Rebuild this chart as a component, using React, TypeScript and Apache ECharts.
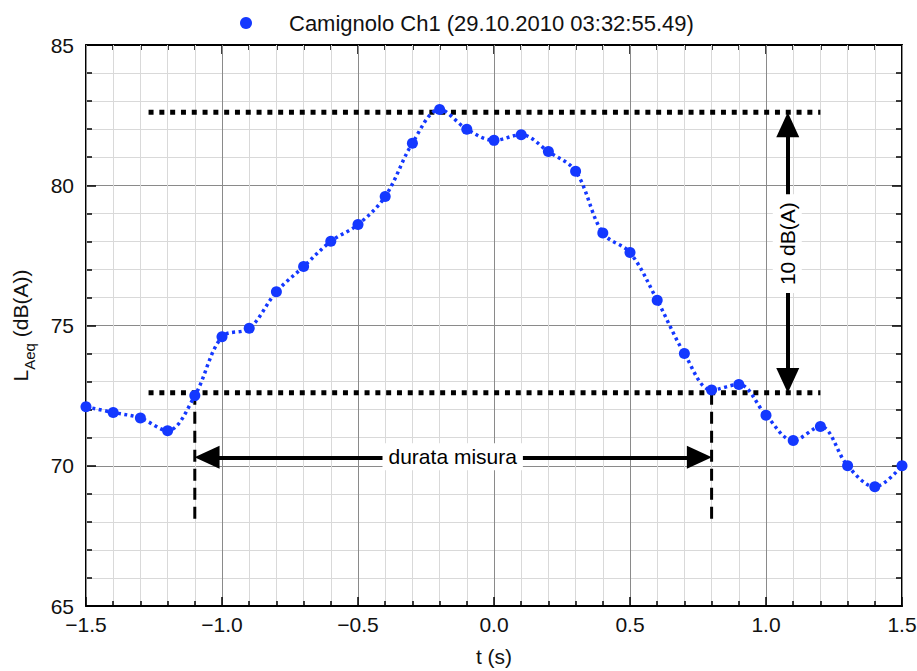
import React, { useEffect, useRef } from "react";
import * as echarts from "echarts";

// ---- data ----
const T_VALUES = [
  -1.5, -1.4, -1.3, -1.2, -1.1, -1.0, -0.9, -0.8, -0.7, -0.6, -0.5, -0.4, -0.3, -0.2, -0.1,
  0.0, 0.1, 0.2, 0.3, 0.4, 0.5, 0.6, 0.7, 0.8, 0.9, 1.0, 1.1, 1.2, 1.3, 1.4, 1.5,
];
const LAEQ_VALUES = [
  72.1, 71.9, 71.7, 71.25, 72.5, 74.6, 74.9, 76.2, 77.1, 78.0, 78.6, 79.6, 81.5, 82.7, 82.0,
  81.6, 81.8, 81.2, 80.5, 78.3, 77.6, 75.9, 74.0, 72.7, 72.9, 71.8, 70.9, 71.4, 70.0, 69.25, 70.0,
];
const SERIES_NAME = "Camignolo Ch1 (29.10.2010 03:32:55.49)";

// annotation values (data coordinates)
const LEVEL_MAX = 82.6;
const LEVEL_MAX_MINUS_10 = 72.6;
const LEVEL_LINE_X = [-1.27, 1.2];
const MEASURE_START = -1.1;
const MEASURE_END = 0.8;
const MEASURE_MARK_BOTTOM = 68.0;
const MEASURE_ARROW_Y = 70.3;
const MEASURE_LABEL = "durata misura";
const DELTA_ARROW_X = 1.08;
const DELTA_LABEL = "10 dB(A)";
const DELTA_LABEL_Y = 77.9;
// half the arrow-head length, in data units, so the tips land on the endpoints
const HEAD_HALF_X = 0.045;
const HEAD_HALF_Y = 0.44;

const X_MIN = -1.5;
const X_MAX = 1.5;
const Y_MIN = 65;
const Y_MAX = 85;

const FONT = "'Liberation Sans', Arial, Helvetica, sans-serif";
const BLUE = "#1438ff";

const fmtX = (v: number) => (v < 0 ? "\u2212" : "") + Math.abs(v).toFixed(1);

export default function App() {
  const ref = useRef<HTMLDivElement>(null);

  useEffect(() => {
    if (!ref.current) return;
    const chart = echarts.init(ref.current, undefined, { renderer: "svg" });

    const tickStyle = { color: "#000", width: 1.5 };
    const axisLine = { show: true, onZero: false, lineStyle: { color: "#000", width: 2 } };
    const majorSplit = { show: true, lineStyle: { color: "#8a8a8a", width: 1 } };
    const minorSplit = { show: true, lineStyle: { color: "#d9d9d9", width: 1 } };

    const xBase = {
      type: "value",
      min: X_MIN,
      max: X_MAX,
      interval: 0.5,
      axisLine,
      axisTick: { show: true, inside: true, length: 9, lineStyle: tickStyle },
      minorTick: { show: true, splitNumber: 5, length: 5, lineStyle: tickStyle },
    };
    const yBase = {
      type: "value",
      min: Y_MIN,
      max: Y_MAX,
      interval: 5,
      axisLine,
      axisTick: { show: true, inside: true, length: 10, lineStyle: tickStyle },
      minorTick: { show: true, splitNumber: 5, length: 6, lineStyle: tickStyle },
    };

    const data = T_VALUES.map((t, i) => [t, LAEQ_VALUES[i]]);

    const labelBase = {
      show: true,
      position: [0, 0],
      align: "center",
      verticalAlign: "middle",
      fontSize: 21,
      color: "#000",
      opacity: 1,
      fontFamily: FONT,
      backgroundColor: "#fff",
      textBorderWidth: 0,
    };

    const option: any = {
      animation: false,
      backgroundColor: "#fff",
      textStyle: { fontFamily: FONT },
      grid: {
        left: 86,
        right: 15,
        top: 45,
        bottom: 65,
        containLabel: false,
        outerBoundsMode: "none",
      },
      legend: {
        data: [{ name: SERIES_NAME, icon: "circle" }],
        left: 235,
        top: 7,
        itemWidth: 12,
        itemHeight: 12,
        textStyle: { fontSize: 22, color: "#111", fontFamily: FONT, padding: [0, 0, 0, 32] },
      },
      xAxis: [
        {
          ...xBase,
          position: "bottom",
          name: "t (s)",
          nameLocation: "middle",
          nameGap: 40,
          nameTextStyle: { fontSize: 21, color: "#111", fontFamily: FONT },
          axisLabel: { fontSize: 21, color: "#111", margin: 8, formatter: fmtX, fontFamily: FONT },
          splitLine: majorSplit,
          minorSplitLine: minorSplit,
          z: 3,
        },
        {
          ...xBase,
          position: "top",
          axisLabel: { show: false },
          splitLine: { show: false },
        },
      ],
      yAxis: [
        {
          ...yBase,
          position: "left",
          name: "{l|L}{s|Aeq}{l| (dB(A))}",
          nameLocation: "middle",
          nameRotate: 90,
          nameGap: 49,
          nameTextStyle: {
            color: "#111",
            rich: {
              l: { fontSize: 21, lineHeight: 34, verticalAlign: "middle", color: "#111", fontFamily: FONT },
              s: { fontSize: 15, lineHeight: 34, verticalAlign: "bottom", color: "#111", fontFamily: FONT },
            },
          },
          axisLabel: { fontSize: 21, color: "#111", margin: 12, fontFamily: FONT },
          splitLine: majorSplit,
          minorSplitLine: minorSplit,
        },
        {
          ...yBase,
          position: "right",
          axisLabel: { show: false },
          splitLine: { show: false },
        },
      ],
      series: [
        // level reference lines (dotted)
        {
          type: "line",
          name: "maxLine",
          data: LEVEL_LINE_X.map((x) => [x, LEVEL_MAX]),
          symbol: "none",
          lineStyle: { color: "#000", width: 5, type: [5, 5.8] },
          silent: true,
          z: 3,
        },
        {
          type: "line",
          name: "minLine",
          data: LEVEL_LINE_X.map((x) => [x, LEVEL_MAX_MINUS_10]),
          symbol: "none",
          lineStyle: { color: "#000", width: 5, type: [5, 5.8] },
          silent: true,
          z: 3,
        },
        // dashed measurement markers
        {
          type: "line",
          name: "startMark",
          data: [
            [MEASURE_START, LEVEL_MAX_MINUS_10],
            [MEASURE_START, MEASURE_MARK_BOTTOM],
          ],
          symbol: "none",
          lineStyle: { color: "#000", width: 3, type: [12, 7] },
          silent: true,
          z: 3,
        },
        {
          type: "line",
          name: "endMark",
          data: [
            [MEASURE_END, LEVEL_MAX_MINUS_10],
            [MEASURE_END, MEASURE_MARK_BOTTOM],
          ],
          symbol: "none",
          lineStyle: { color: "#000", width: 3, type: [12, 7] },
          silent: true,
          z: 3,
        },
        // arrows
        {
          type: "line",
          name: "arrows",
          data: [],
          silent: true,
          z: 4,
          markLine: {
            silent: true,
            animation: false,
            symbol: ["triangle", "triangle"],
            symbolSize: [23, 25],
            label: { show: false },
            lineStyle: { color: "#000", width: 4, type: "solid" },
            data: [
              [
                { coord: [MEASURE_START + HEAD_HALF_X, MEASURE_ARROW_Y] },
                { coord: [MEASURE_END - HEAD_HALF_X, MEASURE_ARROW_Y] },
              ],
              [
                { coord: [DELTA_ARROW_X, LEVEL_MAX_MINUS_10 + HEAD_HALF_Y] },
                { coord: [DELTA_ARROW_X, LEVEL_MAX - HEAD_HALF_Y] },
              ],
            ],
          },
        },
        // arrow labels
        {
          type: "scatter",
          name: "labels",
          symbol: "circle",
          symbolSize: 1,
          silent: true,
          z: 5,
          itemStyle: { color: "#fff" },
          emphasis: { disabled: true },
          data: [
            {
              value: [(MEASURE_START + MEASURE_END) / 2, MEASURE_ARROW_Y],
              label: { ...labelBase, formatter: MEASURE_LABEL, padding: [3, 6, 3, 6] },
            },
            {
              value: [DELTA_ARROW_X, DELTA_LABEL_Y],
              label: { ...labelBase, rotate: 90, formatter: DELTA_LABEL, padding: [4, 8, 4, 8] },
            },
          ],
        },
        // main series
        {
          type: "line",
          name: SERIES_NAME,
          data,
          smooth: 0.35,
          symbol: "circle",
          symbolSize: 11,
          itemStyle: { color: BLUE },
          lineStyle: { color: BLUE, width: 3.5, type: [3, 3.5] },
          z: 6,
        },
      ],
    };

    chart.setOption(option);
    return () => chart.dispose();
  }, []);

  return <div ref={ref} style={{ width: 917, height: 671, position: "absolute", left: 0, top: 0 }} />;
}
